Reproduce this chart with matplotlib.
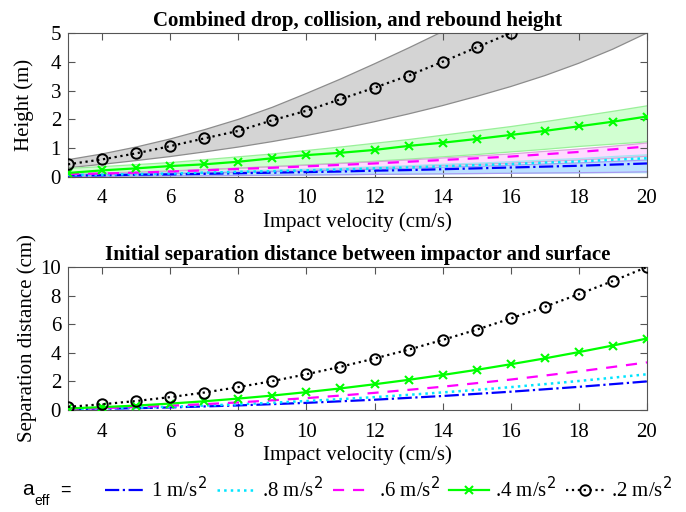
import matplotlib

matplotlib.use("Agg")
import matplotlib.pyplot as plt

plt.rcParams["font.family"] = ["Liberation Serif", "DejaVu Serif"]

# impact velocity (cm/s)
velocity = list(range(3, 21))

# top panel: combined height (m), one series per effective acceleration
height_1 = [0.05, 0.06, 0.08, 0.09, 0.11, 0.13, 0.15, 0.17, 0.19, 0.22, 0.24, 0.27, 0.30, 0.33, 0.36, 0.39, 0.43, 0.47]
height_08 = [0.07, 0.08, 0.10, 0.12, 0.15, 0.18, 0.20, 0.23, 0.26, 0.30, 0.33, 0.37, 0.41, 0.45, 0.50, 0.54, 0.60, 0.65]
height_06 = [0.10, 0.12, 0.15, 0.19, 0.23, 0.28, 0.32, 0.37, 0.42, 0.47, 0.53, 0.59, 0.65, 0.71, 0.79, 0.87, 0.96, 1.06]
height_04 = [0.14, 0.23, 0.30, 0.38, 0.44, 0.53, 0.65, 0.76, 0.84, 0.94, 1.08, 1.19, 1.32, 1.46, 1.60, 1.76, 1.92, 2.10]
velocity_02 = list(range(3, 17))
height_02 = [0.44, 0.61, 0.82, 1.07, 1.34, 1.60, 1.97, 2.30, 2.70, 3.10, 3.52, 4.00, 4.50, 5.00]

# uncertainty bands (lower / upper)
band_1_lo = [0.02, 0.02, 0.03, 0.04, 0.04, 0.05, 0.06, 0.07, 0.08, 0.09, 0.10, 0.11, 0.12, 0.13, 0.14, 0.15, 0.16, 0.18]
band_1_hi = [0.07, 0.08, 0.10, 0.12, 0.14, 0.16, 0.19, 0.21, 0.24, 0.27, 0.30, 0.34, 0.37, 0.41, 0.45, 0.49, 0.54, 0.59]
band_08_lo = [0.02, 0.03, 0.03, 0.04, 0.05, 0.06, 0.07, 0.07, 0.08, 0.09, 0.10, 0.11, 0.12, 0.13, 0.14, 0.14, 0.15, 0.15]
band_08_hi = [0.09, 0.10, 0.12, 0.15, 0.18, 0.21, 0.24, 0.27, 0.31, 0.35, 0.39, 0.44, 0.48, 0.53, 0.59, 0.64, 0.71, 0.77]
band_06_lo = [0.07, 0.08, 0.10, 0.13, 0.16, 0.19, 0.22, 0.25, 0.29, 0.32, 0.36, 0.40, 0.44, 0.48, 0.54, 0.59, 0.65, 0.72]
band_06_hi = [0.12, 0.14, 0.17, 0.21, 0.26, 0.31, 0.36, 0.41, 0.47, 0.53, 0.59, 0.66, 0.73, 0.80, 0.89, 0.97, 1.07, 1.18]
band_04_lo = [0.08, 0.12, 0.16, 0.20, 0.25, 0.30, 0.36, 0.42, 0.48, 0.55, 0.62, 0.70, 0.78, 0.87, 0.96, 1.06, 1.14, 1.22]
band_04_hi = [0.30, 0.36, 0.43, 0.50, 0.60, 0.70, 0.80, 0.92, 1.04, 1.17, 1.30, 1.45, 1.60, 1.75, 1.92, 2.10, 2.28, 2.47]
band_02_lo = [0.32, 0.44, 0.57, 0.71, 0.87, 1.04, 1.23, 1.44, 1.67, 1.92, 2.19, 2.48, 2.80, 3.14, 3.52, 3.95, 4.44, 5.00]
band_02_hi = [0.60, 0.80, 1.04, 1.32, 1.64, 2.00, 2.42, 2.90, 3.40, 3.93, 4.48, 5.05, 5.65, 6.30, 7.00, 7.75, 8.55, 9.40]

# bottom panel: initial separation distance (cm)
sep_1 = [0.05, 0.08, 0.13, 0.18, 0.25, 0.32, 0.41, 0.50, 0.61, 0.72, 0.85, 0.98, 1.13, 1.28, 1.45, 1.62, 1.81, 2.00]
sep_08 = [0.06, 0.10, 0.16, 0.23, 0.31, 0.40, 0.51, 0.63, 0.76, 0.90, 1.06, 1.23, 1.41, 1.60, 1.81, 2.03, 2.26, 2.50]
sep_06 = [0.08, 0.13, 0.21, 0.30, 0.41, 0.53, 0.68, 0.83, 1.01, 1.20, 1.41, 1.63, 1.88, 2.13, 2.41, 2.70, 3.01, 3.33]
sep_04 = [0.11, 0.20, 0.31, 0.45, 0.61, 0.80, 1.01, 1.25, 1.51, 1.80, 2.11, 2.45, 2.81, 3.20, 3.61, 4.05, 4.51, 5.00]
sep_02 = [0.22, 0.40, 0.63, 0.90, 1.22, 1.60, 2.02, 2.50, 3.02, 3.60, 4.22, 4.90, 5.62, 6.40, 7.22, 8.10, 9.02, 10.00]

legend_labels = ["1 m/s$^2$", ".8 m/s$^2$", ".6 m/s$^2$", ".4 m/s$^2$", ".2 m/s$^2$"]

BLUE = "#0000ff"
CYAN = "#00e5ff"
MAGENTA = "#ff00ff"
GREEN = "#00ff00"
BLACK = "#000000"
SPINE = "#555555"
FS = 15


def style_axes(ax):
    ax.tick_params(direction="in", top=True, right=True, length=5, width=0.8,
                   color=SPINE, labelsize=FS, pad=5)
    ax.tick_params(axis="x", pad=9)
    for spine in ax.spines.values():
        spine.set_color(SPINE)
        spine.set_linewidth(0.8)
    ax.set_xlim(3, 20)
    ax.set_xticks(range(4, 21, 2))
    ax.set_xlabel("Impact velocity (cm/s)", fontsize=FS, labelpad=3)


def draw_series(ax, ys, y02, x02):
    h1, = ax.plot(velocity, ys[0], "-.", color=BLUE, lw=1.6, zorder=4)
    h2, = ax.plot(velocity, ys[1], ":", color=CYAN, lw=1.8, zorder=4)
    h3, = ax.plot(velocity, ys[2], "--", color=MAGENTA, lw=1.6, dashes=(5, 4), zorder=4)
    h4, = ax.plot(velocity, ys[3], "-", color=GREEN, lw=1.6, marker="x",
                  ms=6, mew=1.5, zorder=5)
    h5, = ax.plot(x02, y02, ":", color=BLACK, lw=1.6, marker="o", ms=7.5,
                  mfc="none", mew=1.4, zorder=6)
    return [h1, h2, h3, h4, h5]


fig = plt.figure(figsize=(6.86, 5.12), dpi=100)
ax_top = fig.add_axes([0.0991, 0.6543, 0.844, 0.2813])
ax_bot = fig.add_axes([0.0991, 0.1992, 0.844, 0.2793])

# bands on the top panel
bands = [
    (band_02_lo, band_02_hi, "#000000", 0.17, "#8c8c8c"),
    (band_04_lo, band_04_hi, GREEN, 0.18, "#99f099"),
    (band_06_lo, band_06_hi, MAGENTA, 0.14, "#d9a6d9"),
    (band_08_lo, band_08_hi, CYAN, 0.18, "#a6e6f2"),
    (band_1_lo, band_1_hi, BLUE, 0.1, "#a89cf2"),
]
for lo, hi, face, alpha, edge in bands:
    ax_top.fill_between(velocity, lo, hi, facecolor=face, alpha=alpha, lw=0, zorder=1)
    ax_top.plot(velocity, lo, color=edge, lw=0.9, zorder=2)
    ax_top.plot(velocity, hi, color=edge, lw=0.9, zorder=2)

draw_series(ax_top, [height_1, height_08, height_06, height_04], height_02, velocity_02)
ax_top.set_ylim(0, 5)
ax_top.set_yticks(range(0, 6))
ax_top.set_ylabel("Height (m)", fontsize=FS)
ax_top.yaxis.set_label_coords(-0.058, 0.5)
ax_top.set_title("Combined drop, collision, and rebound height",
                 fontsize=15, fontweight="bold", pad=5)
style_axes(ax_top)

handles = draw_series(ax_bot, [sep_1, sep_08, sep_06, sep_04], sep_02, velocity)
ax_bot.set_ylim(0, 10)
ax_bot.set_yticks(range(0, 11, 2))
ax_bot.set_ylabel("Separation distance (cm)", fontsize=FS)
ax_bot.yaxis.set_label_coords(-0.053, 0.5)
ax_bot.set_title("Initial separation distance between impactor and surface",
                 fontsize=15, fontweight="bold", pad=5)
style_axes(ax_bot)

fig.legend(handles, legend_labels, loc="center", bbox_to_anchor=(0.567, 0.043),
           ncol=5, frameon=False, fontsize=FS, handlelength=1.9,
           handletextpad=0.3, columnspacing=0.45, borderaxespad=0)

fig.text(22 / 686, 0.043, "a", family="Liberation Sans", fontsize=15, va="center")
fig.text(34 / 686, 0.022, "eff", family="Liberation Sans", fontsize=10, va="center")
fig.text(60 / 686, 0.043, "=", family="Liberation Sans", fontsize=13, va="center")

fig.savefig("out.png", dpi=100)
